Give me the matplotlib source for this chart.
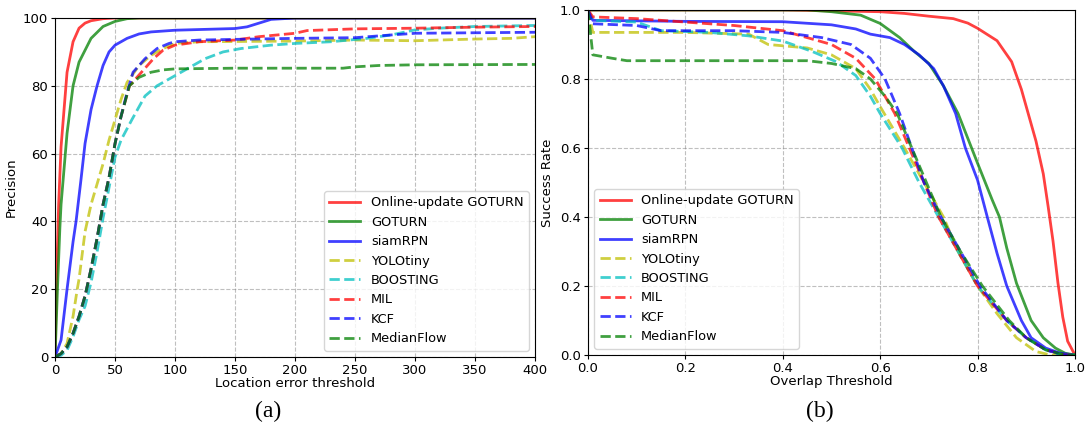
import numpy as np
import matplotlib.pyplot as plt

# ---- (a) precision vs location error threshold ----
names = ['Online-update GOTURN', 'GOTURN', 'siamRPN', 'YOLOtiny',
         'BOOSTING', 'MIL', 'KCF', 'MedianFlow']
colors = ['r', 'g', 'b', 'y', 'c', 'r', 'b', 'g']
styles = ['-', '-', '-', '--', '--', '--', '--', '--']

prec_x = {
    'Online-update GOTURN': [0, 1, 3, 5, 10, 15, 20, 25, 30, 40, 50, 400],
    'GOTURN': [0, 2, 4, 5, 10, 15, 20, 30, 40, 50, 60, 70, 400],
    'siamRPN': [0, 5, 10, 15, 17.5, 21.5, 25, 30, 35, 40, 45, 50, 60, 70, 80, 100, 150, 160, 170, 180, 200, 400],
    'YOLOtiny': [0, 5, 10, 15, 18.5, 20, 25, 30, 35, 40, 45, 50, 55, 60, 70, 80, 90, 100, 120, 200, 250, 300, 350, 380, 400],
    'BOOSTING': [0, 5, 10, 15, 20, 25, 30, 35, 40, 45, 50, 55, 64, 75, 85, 100, 110, 125, 140, 155, 180, 200, 230, 260, 280, 300, 320, 350, 400],
    'MIL': [0, 5, 10, 15, 20, 25, 30, 35, 40, 45, 50, 55, 62, 72, 82, 90, 100, 120, 150, 170, 200, 210, 250, 300, 350, 400],
    'KCF': [0, 5, 10, 15, 20, 25, 30, 35, 40, 45, 50, 55, 60, 65, 75, 85, 95, 100, 120, 150, 200, 250, 280, 300, 400],
    'MedianFlow': [0, 5, 10, 15, 20, 25, 30, 35, 40, 45, 50, 55, 62, 70, 80, 90, 100, 150, 240, 250, 270, 300, 400],
}
prec_y = {
    'Online-update GOTURN': [0, 20, 45, 62, 84, 93, 97, 98.5, 99.2, 99.8, 100, 100],
    'GOTURN': [0, 20, 38, 45, 66, 80, 87, 94, 97.5, 99, 99.8, 100, 100],
    'siamRPN': [0, 5, 20, 34, 40, 52, 63, 73, 80, 86, 90, 92, 94, 95.3, 95.9, 96.4, 96.9, 97.4, 98.5, 99.6, 100, 100],
    'YOLOtiny': [0, 1, 4, 12, 20, 23, 37, 45, 51, 57, 64, 70, 76, 81, 86, 89, 91, 92.5, 93, 93.2, 93.5, 93.3, 93.8, 94, 94.5],
    'BOOSTING': [0, 0.5, 2, 6, 11, 15, 22, 31, 41, 50, 59, 64, 70, 77, 80, 83, 85, 88, 90, 91, 92, 92.5, 93, 94, 95, 96.5, 97, 97.5, 97.8],
    'MIL': [0, 1, 3, 7, 12, 18, 26, 35, 45, 53, 63, 71, 80, 84, 88, 90.5, 92, 93, 93.5, 94.5, 95.5, 96.3, 96.8, 97, 97.3, 97.5],
    'KCF': [0, 1, 3, 7, 12, 18, 26, 35, 45, 53, 63, 71, 78, 84, 88, 91, 92.5, 93, 93.5, 93.7, 94, 94.2, 95, 95.5, 95.8],
    'MedianFlow': [0, 1, 3, 7, 12, 18, 26, 35, 45, 53, 63, 71, 80, 82.5, 84, 84.7, 85, 85.2, 85.2, 85.6, 86, 86.2, 86.3],
}

# ---- (b) success rate vs overlap threshold ----
succ_x = {
    'Online-update GOTURN': [0, 0.4, 0.6, 0.65, 0.7, 0.75, 0.78, 0.8, 0.84, 0.87, 0.89, 0.9, 0.92, 0.935, 0.945, 0.955, 0.965, 0.975, 0.985, 1.0],
    'GOTURN': [0, 0.45, 0.5, 0.56, 0.6, 0.64, 0.67, 0.7, 0.73, 0.76, 0.785, 0.8, 0.83, 0.845, 0.86, 0.88, 0.91, 0.935, 0.96, 0.98, 1.0],
    'siamRPN': [0, 0.01, 0.2, 0.4, 0.5, 0.55, 0.58, 0.62, 0.65, 0.68, 0.71, 0.73, 0.755, 0.775, 0.8, 0.82, 0.84, 0.86, 0.89, 0.91, 0.94, 0.97, 1.0],
    'YOLOtiny': [0, 0.01, 0.2, 0.33, 0.37, 0.45, 0.5, 0.55, 0.58, 0.6, 0.65, 0.69, 0.73, 0.76, 0.8, 0.84, 0.88, 0.92, 0.95, 1.0],
    'BOOSTING': [0, 0.01, 0.1, 0.15, 0.25, 0.33, 0.4, 0.46, 0.51, 0.55, 0.58, 0.6, 0.645, 0.68, 0.72, 0.76, 0.8, 0.86, 0.9, 0.94, 0.97, 1.0],
    'MIL': [0, 0.01, 0.1, 0.2, 0.3, 0.4, 0.45, 0.5, 0.55, 0.59, 0.63, 0.66, 0.69, 0.72, 0.76, 0.8, 0.86, 0.9, 0.94, 0.98, 1.0],
    'KCF': [0, 0.01, 0.1, 0.15, 0.3, 0.4, 0.48, 0.54, 0.58, 0.61, 0.64, 0.665, 0.69, 0.725, 0.765, 0.805, 0.86, 0.9, 0.94, 0.98, 1.0],
    'MedianFlow': [0, 0.01, 0.05, 0.08, 0.45, 0.5, 0.55, 0.58, 0.61, 0.635, 0.665, 0.695, 0.725, 0.765, 0.81, 0.865, 0.9, 0.94, 0.98, 1.0],
}
succ_y = {
    'Online-update GOTURN': [1.0, 1.0, 0.995, 0.99, 0.982, 0.975, 0.962, 0.947, 0.911, 0.85, 0.77, 0.72, 0.62, 0.525, 0.43, 0.33, 0.21, 0.11, 0.04, 0.0],
    'GOTURN': [1.0, 1.0, 0.995, 0.985, 0.961, 0.92, 0.88, 0.845, 0.78, 0.70, 0.61, 0.556, 0.45, 0.40, 0.31, 0.208, 0.10, 0.05, 0.02, 0.005, 0.0],
    'siamRPN': [1.0, 0.97, 0.967, 0.966, 0.957, 0.945, 0.93, 0.92, 0.9, 0.87, 0.83, 0.78, 0.7, 0.6, 0.507, 0.4, 0.295, 0.2, 0.1, 0.05, 0.02, 0.005, 0.0],
    'YOLOtiny': [1.0, 0.935, 0.935, 0.93, 0.9, 0.89, 0.87, 0.83, 0.77, 0.72, 0.6, 0.5, 0.4, 0.3, 0.2, 0.12, 0.05, 0.01, 0.0, 0.0],
    'BOOSTING': [1.0, 0.97, 0.965, 0.94, 0.935, 0.925, 0.91, 0.88, 0.85, 0.81, 0.75, 0.7, 0.6, 0.5, 0.4, 0.3, 0.2, 0.1, 0.05, 0.015, 0.0, 0.0],
    'MIL': [1.0, 0.98, 0.975, 0.965, 0.955, 0.94, 0.92, 0.9, 0.86, 0.8, 0.7, 0.6, 0.5, 0.4, 0.3, 0.2, 0.1, 0.05, 0.015, 0.0, 0.0],
    'KCF': [1.0, 0.96, 0.955, 0.94, 0.94, 0.935, 0.92, 0.9, 0.86, 0.8, 0.7, 0.6, 0.5, 0.4, 0.3, 0.2, 0.1, 0.05, 0.015, 0.0, 0.0],
    'MedianFlow': [1.0, 0.87, 0.86, 0.853, 0.853, 0.845, 0.83, 0.8, 0.75, 0.7, 0.6, 0.5, 0.4, 0.3, 0.2, 0.1, 0.05, 0.015, 0.0, 0.0],
}

fig = plt.figure(figsize=(10.88, 4.25), dpi=100)
ax1 = fig.add_axes([0.0506, 0.16, 0.4412, 0.7976])
ax2 = fig.add_axes([0.5404, 0.1647, 0.4476, 0.8118])

for name, c, ls in zip(names, colors, styles):
    ax1.plot(prec_x[name], prec_y[name], color=c, linestyle=ls, lw=2, alpha=0.75, label=name)
    ax2.plot(succ_x[name], succ_y[name], color=c, linestyle=ls, lw=2, alpha=0.75, label=name)

ax1.set_xlim(0, 400)
ax1.set_ylim(0, 100)
ax1.set_xticks(np.arange(0, 401, 50))
ax1.set_yticks(np.arange(0, 101, 20))
ax1.set_xlabel('Location error threshold', fontsize=9.5, labelpad=0)
ax1.set_ylabel('Precision', fontsize=9.5, labelpad=4)
ax1.legend(loc='lower right', fontsize=9.3, handlelength=2.4)

ax2.set_xlim(0, 1)
ax2.set_ylim(0, 1)
ax2.set_xticks(np.arange(0, 1.01, 0.2))
ax2.set_yticks(np.arange(0, 1.01, 0.2))
ax2.set_xlabel('Overlap Threshold', fontsize=9.5, labelpad=0)
ax2.set_ylabel('Success Rate', fontsize=9.5, labelpad=4)
ax2.legend(loc='lower left', fontsize=9.3, handlelength=2.4)

for ax in (ax1, ax2):
    ax.grid(True, linestyle='--', color='gray', alpha=0.5, lw=0.8)
    ax.tick_params(labelsize=9.5, pad=2, length=3)

fig.text(0.2463, 0.033, '(a)', ha='center', va='center', fontsize=17, family='Liberation Serif')
fig.text(0.7537, 0.033, '(b)', ha='center', va='center', fontsize=17, family='Liberation Serif')

fig.savefig('out.png', dpi=100)
